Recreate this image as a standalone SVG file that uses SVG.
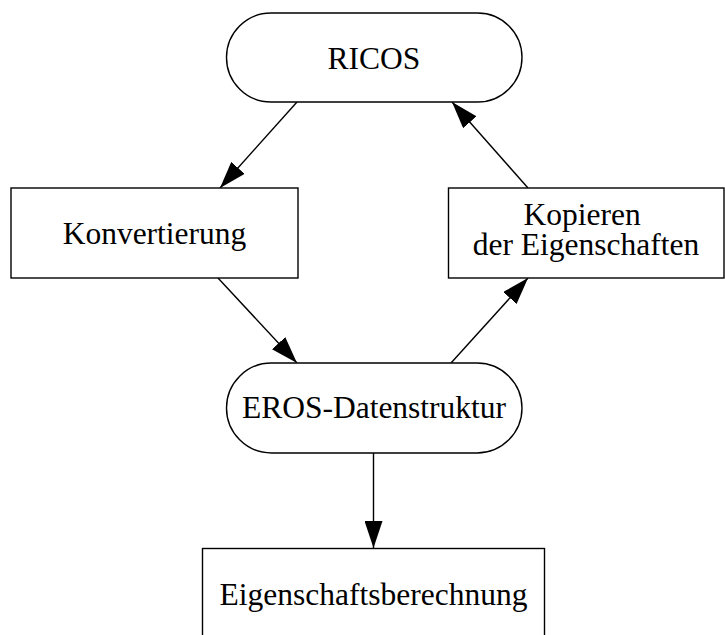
<svg xmlns="http://www.w3.org/2000/svg" width="725" height="635" viewBox="0 0 725 635">
  <style>
    .shape { fill: #ffffff; stroke: #000000; stroke-width: 1.4; }
    .label { font-family: "Liberation Serif", "Times New Roman", serif; font-size: 31.5px; fill: #000000; text-anchor: middle; }
    .edge { fill: none; stroke: #000000; stroke-width: 1.4; }
  </style>
  <defs>
    <marker id="arrow" viewBox="0 0 27 18" refX="27" refY="9" markerWidth="27" markerHeight="18" markerUnits="userSpaceOnUse" orient="auto">
      <path d="M0,0 L27,9 L0,18 Z" fill="#000000"/>
    </marker>
  </defs>
  <rect width="725" height="635" fill="#ffffff"/>

  <g id="connectors">
    <line class="edge" x1="297" y1="102" x2="220" y2="188" marker-end="url(#arrow)"/>
    <line class="edge" x1="528" y1="188" x2="452" y2="102" marker-end="url(#arrow)"/>
    <line class="edge" x1="218" y1="278" x2="297" y2="363" marker-end="url(#arrow)"/>
    <line class="edge" x1="451" y1="363" x2="528" y2="278" marker-end="url(#arrow)"/>
    <line class="edge" x1="373.5" y1="453" x2="373.5" y2="548" marker-end="url(#arrow)"/>
  </g>

  <g id="ricos">
    <rect class="shape" x="226.5" y="13" width="295.5" height="89" rx="44.5" ry="44.5"/>
    <text class="label" x="374" y="69">RICOS</text>
  </g>

  <g id="konvertierung">
    <rect class="shape" x="11" y="188" width="287" height="90"/>
    <text class="label" x="154.5" y="244">Konvertierung</text>
  </g>

  <g id="kopieren">
    <rect class="shape" x="448.5" y="188" width="275.5" height="90"/>
    <text class="label">
      <tspan x="586" y="225">Kopieren</tspan>
      <tspan x="586" y="255">der Eigenschaften</tspan>
    </text>
  </g>

  <g id="eros">
    <rect class="shape" x="226.5" y="363" width="295.5" height="90" rx="45" ry="45"/>
    <text class="label" x="374" y="418">EROS-Datenstruktur</text>
  </g>

  <g id="eigenschaftsberechnung">
    <rect class="shape" x="202.5" y="548.5" width="342" height="92"/>
    <text class="label" x="373.5" y="605">Eigenschaftsberechnung</text>
  </g>
</svg>
